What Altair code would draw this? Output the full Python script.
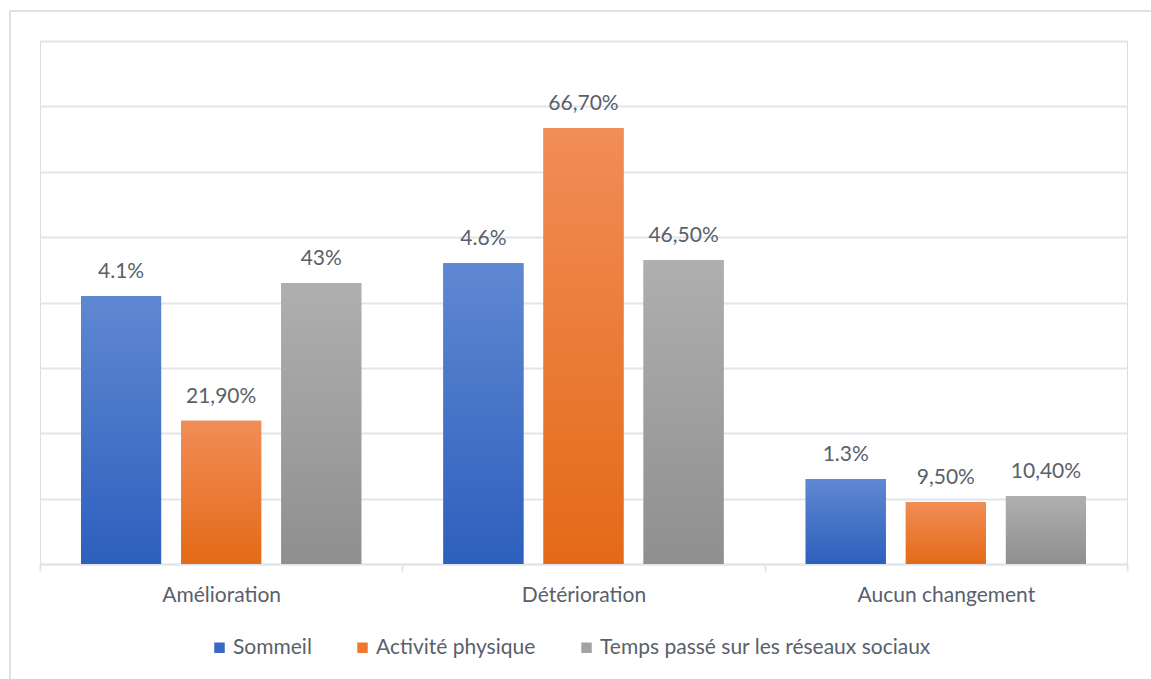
import altair as alt
import pandas as pd

# Survey results: share of respondents per type of change, for three habits
categories = ["Amélioration", "Détérioration", "Aucun changement"]
series = ["Sommeil", "Activité physique", "Temps passé sur les réseaux sociaux"]

sommeil = [41, 46, 13]
sommeil_labels = ["4.1%", "4.6%", "1.3%"]
activite = [21.9, 66.7, 9.5]
activite_labels = ["21,90%", "66,70%", "9,50%"]
reseaux = [43, 46.5, 10.4]
reseaux_labels = ["43%", "46,50%", "10,40%"]

rows = []
for name, vals, labs in [
    (series[0], sommeil, sommeil_labels),
    (series[1], activite, activite_labels),
    (series[2], reseaux, reseaux_labels),
]:
    for cat, v, lab in zip(categories, vals, labs):
        rows.append({"categorie": cat, "serie": name, "valeur": v, "etiquette": lab})
df = pd.DataFrame(rows)

FONT = "Lato"
FS = 21
TEXT = "#595f6b"
GRID = "#e1e5ec"

solid = ["#3a68c4", "#ee7a30", "#a2a2a2"]
gradients = {
    series[0]: ("#6088d2", "#2d5fbd"),
    series[1]: ("#f18d57", "#e46a17"),
    series[2]: ("#afafaf", "#8f8f8f"),
}

x_enc = alt.X(
    "categorie:N",
    sort=categories,
    scale=alt.Scale(paddingInner=0, paddingOuter=0),
    axis=alt.Axis(
        title=None,
        labelAngle=0,
        labelFont=FONT,
        labelFontSize=FS,
        labelColor=TEXT,
        labelPadding=13,
        tickBand="extent",
        tickSize=7,
        tickColor=GRID,
        tickWidth=2,
        domainColor=GRID,
        domainWidth=2,
        grid=False,
    ),
)
xoff_enc = alt.XOffset(
    "serie:N",
    sort=series,
    scale=alt.Scale(domain=series, paddingInner=0.2, paddingOuter=0.41),
)
y_enc = alt.Y(
    "valeur:Q",
    scale=alt.Scale(domain=[0, 80], nice=False),
    axis=alt.Axis(
        title=None,
        values=list(range(0, 90, 10)),
        labels=False,
        ticks=False,
        domain=False,
        grid=True,
        gridColor=GRID,
        gridWidth=2,
    ),
)

base = alt.Chart(df)

# Solid bars underneath carry the legend
legend_bars = base.mark_bar().encode(
    x=x_enc,
    xOffset=xoff_enc,
    y=y_enc,
    color=alt.Color(
        "serie:N",
        sort=series,
        scale=alt.Scale(domain=series, range=solid),
        legend=alt.Legend(
            title=None,
            orient="none",
            direction="horizontal",
            legendX=169,
            legendY=596,
            symbolType="square",
            symbolSize=110,
            symbolStrokeWidth=0,
            labelFont=FONT,
            labelFontSize=FS,
            labelColor=TEXT,
            labelOffset=3,
            labelLimit=0,
            columnPadding=40,
            padding=0,
        ),
    ),
)

layers = [legend_bars]
for name in series:
    top, bottom = gradients[name]
    layers.append(
        base.transform_filter(alt.datum.serie == name)
        .mark_bar(
            color=alt.LinearGradient(
                gradient="linear",
                x1=0, y1=0, x2=0, y2=1,
                stops=[
                    alt.GradientStop(offset=0, color=top),
                    alt.GradientStop(offset=1, color=bottom),
                ],
            )
        )
        .encode(x=x_enc, xOffset=xoff_enc, y=y_enc)
    )

labels = base.mark_text(
    font=FONT, fontSize=FS, color=TEXT, baseline="alphabetic", dy=-18
).encode(x=x_enc, xOffset=xoff_enc, y=y_enc, text="etiquette:N")
layers.append(labels)

# Light outer frame of the chart
frame_left = base.mark_rule(color="#dde2ea", strokeWidth=2).encode(
    x=alt.value(-30), y=alt.value(-30), y2=alt.value(700)
)
frame_top = base.mark_rule(color="#dde2ea", strokeWidth=2).encode(
    x=alt.value(-30), x2=alt.value(1200), y=alt.value(-30)
)
layers += [frame_left, frame_top]

chart = (
    alt.layer(*layers)
    .properties(
        width=1087,
        height=523,
        autosize=alt.AutoSizeParams(type="none"),
        padding={"left": 40, "top": 41, "right": 24, "bottom": 115},
    )
    .configure_view(stroke=None)
    .configure(background="white")
)

chart.save("out.html", embed_options={"renderer": "svg", "actions": False})
